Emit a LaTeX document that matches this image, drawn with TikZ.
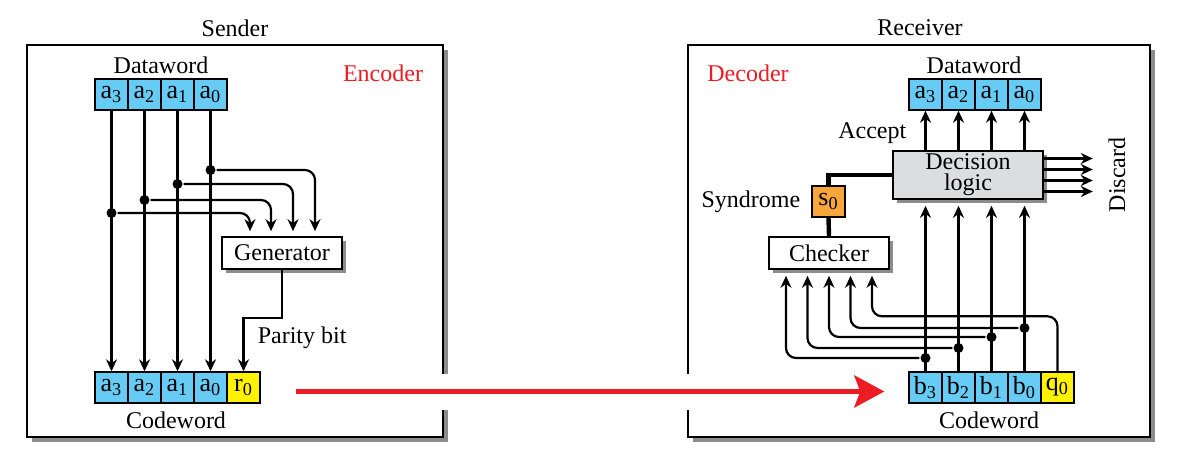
\documentclass[tikz,border=0pt]{standalone}
\usepackage{fontspec}
\setmainfont{Liberation Serif}
\usetikzlibrary{arrows.meta,shadows}
\definecolor{bitblue}{RGB}{102,204,245}
\definecolor{bityellow}{RGB}{255,242,0}
\definecolor{synorange}{RGB}{247,166,60}
\definecolor{logicgray}{RGB}{220,221,222}
\definecolor{codered}{RGB}{237,28,36}
\begin{document}
\begin{tikzpicture}[x=0.5pt, y=-0.5pt, >={Stealth[length=6pt,width=5.5pt]},
    line width=1.1pt, font=\fontsize{12}{14}\selectfont]
       \tikzstyle{panel}=[draw, line width=1pt, fill=white,
         drop shadow={shadow xshift=2.5pt, shadow yshift=-2.5pt, fill=gray!90, opacity=1}]
       \tikzstyle{bit}=[draw, line width=0.7pt, fill=bitblue, minimum width=16.5pt,
         minimum height=15.5pt, inner sep=0pt, font=\fontsize{13}{14}\selectfont]
       \tikzstyle{parity}=[bit, fill=bityellow]
       \tikzstyle{unit}=[draw, line width=0.8pt, fill=white, minimum width=60pt, minimum height=16pt,
         inner sep=0pt, drop shadow={shadow xshift=2pt, shadow yshift=-2pt, fill=gray!90, opacity=1}]
       \tikzstyle{logic}=[unit, fill=logicgray, minimum width=75pt, minimum height=24pt, align=center]
       \tikzstyle{dot}=[circle, fill, inner sep=0pt, minimum size=5pt]
       \tikzstyle{bus}=[line width=2.2pt]
       \useasboundingbox (0,0) rectangle (1179,470);
       % the two boxes
       \path[panel] (27,45) rectangle (443,437);
       \path[panel] (688,45) rectangle (1150,437);
       \fill[white] (437,374) rectangle (696,410);
       \node (snd) at (235,28) {Sender};
       \node (rcv) at (920,28) {Receiver};
       \node[text=codered] (enc) at (383,73) {Encoder};
       \node[text=codered] (dcd) at (748,73) {Decoder};
       % sender
       \node (dwl) at (161,65) {Dataword};
       \node[bit] (d3) at (111.5,94.5) {a\textsubscript{3}};
       \node[bit] (d2) at (144.5,94.5) {a\textsubscript{2}};
       \node[bit] (d1) at (177.5,94.5) {a\textsubscript{1}};
       \node[bit] (d0) at (210.5,94.5) {a\textsubscript{0}};
       \node[bit] (c3) at (111.5,387.5) {a\textsubscript{3}};
       \node[bit] (c2) at (144.5,387.5) {a\textsubscript{2}};
       \node[bit] (c1) at (177.5,387.5) {a\textsubscript{1}};
       \node[bit] (c0) at (210.5,387.5) {a\textsubscript{0}};
       \node[parity] (cr) at (243.5,387.5) {r\textsubscript{0}};
       \node (cwl) at (176,420) {Codeword};
       \node[unit] (gen) at (282,253) {Generator};
       \draw[->] (d3) -- (c3);
       \draw[->] (d2) -- (c2);
       \draw[->] (d1) -- (c1);
       \draw[->] (d0) -- (c0);
       \node[dot] (j3) at (111.5,213) {};
       \node[dot] (j2) at (144.5,200) {};
       \node[dot] (j1) at (177.5,184) {};
       \node[dot] (j0) at (210.5,170) {};
       \draw[->, rounded corners=5pt, shorten >=2.5pt] (j3) -| ([xshift=-16pt]gen.north);
       \draw[->, rounded corners=5pt, shorten >=2.5pt] (j2) -| ([xshift=-5.5pt]gen.north);
       \draw[->, rounded corners=5pt, shorten >=2.5pt] (j1) -| ([xshift=5.5pt]gen.north);
       \draw[->, rounded corners=5pt, shorten >=2.5pt] (j0) -| ([xshift=16.5pt]gen.north);
       \draw[->] (gen.south) -- ++(0,48) -| (cr.north);
       \node[anchor=west] (par) at (250,338) {Parity bit};
       % receiver
       \node (rdl) at (974,65) {Dataword};
       \node[bit] (e3) at (925.5,94.5) {a\textsubscript{3}};
       \node[bit] (e2) at (958.5,94.5) {a\textsubscript{2}};
       \node[bit] (e1) at (991.5,94.5) {a\textsubscript{1}};
       \node[bit] (e0) at (1024.5,94.5) {a\textsubscript{0}};
       \node[bit] (b3) at (925.5,387.5) {b\textsubscript{3}};
       \node[bit] (b2) at (958.5,387.5) {b\textsubscript{2}};
       \node[bit] (b1) at (991.5,387.5) {b\textsubscript{1}};
       \node[bit] (b0) at (1024.5,387.5) {b\textsubscript{0}};
       \node[parity] (bq) at (1057.5,387.5) {q\textsubscript{0}};
       \node (rcl) at (989,420) {Codeword};
       \node[logic] (dec) at (968,175) {Decision\\[-3.5pt]logic};
       \node[bit, fill=synorange] (syn) at (828.5,201.5) {s\textsubscript{0}};
       \node[unit] (chk) at (829,253) {Checker};
       \node[anchor=east] (synl) at (808,202) {Syndrome};
       \node[anchor=east] (acc) at (914,133) {Accept};
       \node[rotate=90] (dis) at (1117,175) {Discard};
       \draw[->] (e3 |- dec.north) -- (e3);
       \draw[->] (e2 |- dec.north) -- (e2);
       \draw[->] (e1 |- dec.north) -- (e1);
       \draw[->] (e0 |- dec.north) -- (e0);
       \draw[->] ([yshift=8.25pt]dec.east) -- ++(49,0);
       \draw[->] ([yshift=2.75pt]dec.east) -- ++(49,0);
       \draw[->] ([yshift=-2.75pt]dec.east) -- ++(49,0);
       \draw[->] ([yshift=-8.25pt]dec.east) -- ++(49,0);
       \draw[bus] (chk.north) -- (syn.south);
       \draw[bus] (syn.north) |- (dec.west);
       \draw[->, shorten >=3pt] (b3) -- (b3 |- dec.south);
       \draw[->, shorten >=3pt] (b2) -- (b2 |- dec.south);
       \draw[->, shorten >=3pt] (b1) -- (b1 |- dec.south);
       \draw[->, shorten >=3pt] (b0) -- (b0 |- dec.south);
       \node[dot] (k3) at (925.5,358) {};
       \node[dot] (k2) at (958.5,348) {};
       \node[dot] (k1) at (991.5,337) {};
       \node[dot] (k0) at (1024.5,328) {};
       \draw[->, rounded corners=5pt, shorten >=3pt] (k3) -| ([xshift=-21.5pt]chk.south);
       \draw[->, rounded corners=5pt, shorten >=3pt] (k2) -| ([xshift=-10.75pt]chk.south);
       \draw[->, rounded corners=5pt, shorten >=3pt] (k1) -| (chk.south);
       \draw[->, rounded corners=5pt, shorten >=3pt] (k0) -| ([xshift=10.75pt]chk.south);
       \draw[->, rounded corners=5pt, shorten >=3pt] (bq.north) -- ++(0,-55) -| ([xshift=21.5pt]chk.south);
       % channel
       \draw[codered, line width=2.5pt, -{Stealth[length=15pt,width=16pt,inset=3pt]}]
         ([xshift=17.5pt,yshift=-2pt]cr.east) -- ([xshift=-12pt,yshift=-2pt]b3.west);
      \end{tikzpicture}
\end{document}
